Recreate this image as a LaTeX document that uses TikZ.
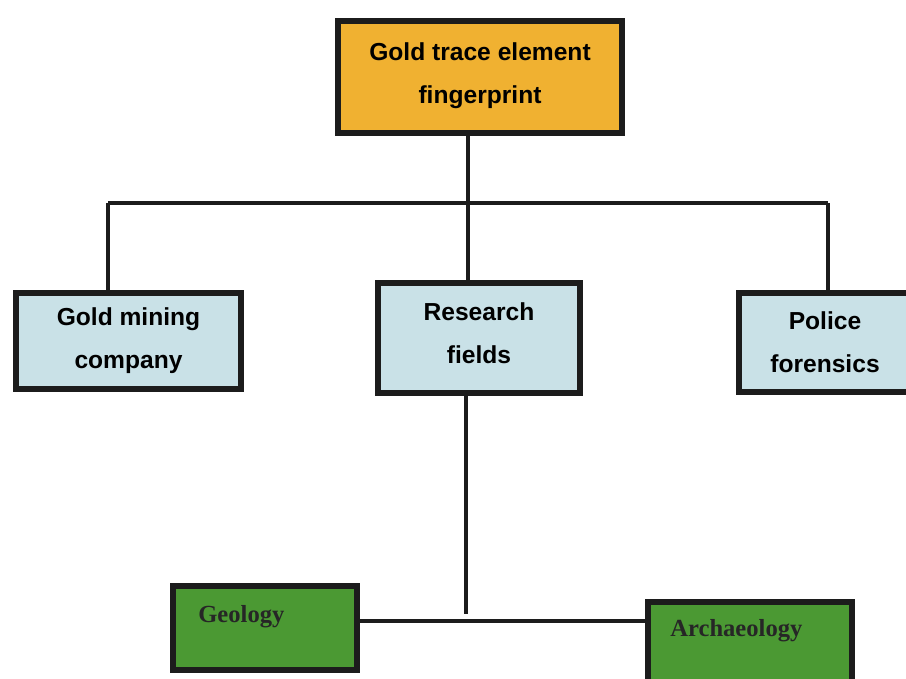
\documentclass[tikz,border=0pt]{standalone}
\usepackage{xcolor}
\usepackage{tikz}
\usepackage{fontspec}
\setmainfont{Liberation Serif}
\newfontfamily\boxsans{Liberation Sans}

\definecolor{goldbox}{HTML}{F0B131}
\definecolor{bluebox}{HTML}{C9E1E7}
\definecolor{greenbox}{HTML}{4B9933}
\definecolor{edge}{HTML}{1C1C1C}

\begin{document}
\begin{tikzpicture}
    [x=0.02cm,y=-0.02cm,
    box/.style={draw=edge,line width=0.12cm,inner sep=0pt,align=center,
        font=\boxsans\bfseries\fontsize{14}{24.5}\selectfont},
    top box/.style={box,fill=goldbox},
    field box/.style={box,fill=bluebox},
    area box/.style={box,fill=greenbox},
    area text/.style={font=\bfseries\fontsize{14}{17}\selectfont,text=black!85,inner sep=0pt},
    link/.style={edge,line width=0.08cm}]

%page
\useasboundingbox (0,0) rectangle (906,679);
\clip (0,0) rectangle (906,679);

%top level
\node[top box,minimum width=5.68cm,minimum height=2.24cm,text depth=0.15cm] (gold) at (480,77)
    {Gold trace element\\fingerprint};

%second level
\node[field box,minimum width=4.5cm,minimum height=1.92cm] (mining) at (128.5,341)
    {Gold mining\\company};
\node[field box,minimum width=4.04cm,minimum height=2.22cm,text depth=0.2cm] (research) at (479,338)
    {Research\\fields};
\node[field box,minimum width=3.44cm,minimum height=1.98cm] (police) at (825,342.5)
    {Police\\forensics};

%third level
\node[area box,minimum width=3.68cm,minimum height=1.68cm] (geology) at (265,628) {};
\node[area text,anchor=west] (geolabel) at (198,617) {Geology};
\node[area box,minimum width=4.08cm,minimum height=2.1cm] (archaeology) at (750,654) {};
\node[area text,anchor=west] (archlabel) at (670,631) {Archaeology};

%bus lines
\coordinate (bus) at (468,203);
\coordinate (busleft) at (108,203);
\coordinate (busright) at (828,203);
\coordinate (split) at (466,614);

\draw[link] (gold.south -| bus) -- (bus);
\draw[link] (busleft) -- (busright);
\draw[link] (busleft) -- (busleft |- mining.north);
\draw[link] (bus) -- (bus |- research.north);
\draw[link] (busright) -- (busright |- police.north);

\draw[link] (research.south -| split) -- (split);
\draw[link] (geology.east |- 0,621) -- (archaeology.west |- 0,621);

\end{tikzpicture}
\end{document}
